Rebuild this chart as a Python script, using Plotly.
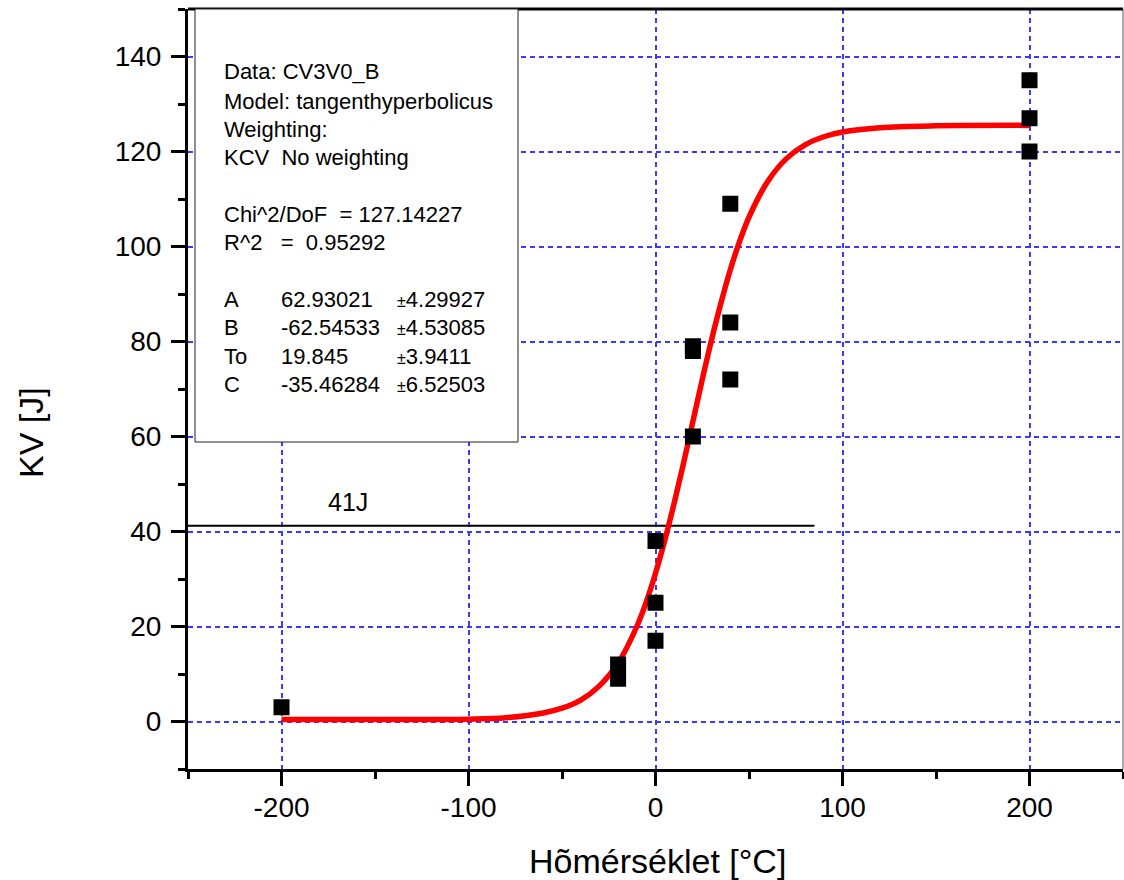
import plotly.graph_objects as go

# ---- data ----
pts_x = [-200, -20, -20, 0, 0, 0, 20, 20, 20, 40, 40, 40, 200, 200, 200]
pts_y = [3, 12, 9, 38, 25, 17, 79, 78, 60, 109, 84, 72, 135, 127, 120]

curve_x = [-200, -150, -100, -80, -60, -50, -40, -30, -20, -10, -5, 0, 5, 10, 15, 20,
           25, 30, 35, 40, 45, 50, 60, 70, 80, 90, 100, 120, 150, 200]
curve_y = [0.4, 0.4, 0.5, 0.8, 1.8, 2.8, 4.5, 7.5, 12.3, 20.0, 25.1, 31.2, 38.2, 46.0, 54.4, 63.2,
           72.0, 80.4, 88.1, 95.1, 101.1, 106.2, 113.7, 118.5, 121.4, 123.1, 124.1, 125.0, 125.4, 125.5]

ref_x = [-250, 85]
ref_y = [41.2, 41.2]
ref_label = "41J"

x_tick_vals = [-200, -100, 0, 100, 200]
x_tick_text = ["-200", "-100", "0", "100", "200"]
y_tick_vals = [0, 20, 40, 60, 80, 100, 120, 140]
y_tick_text = ["0", "20", "40", "60", "80", "100", "120", "140"]

x_title = "Hõmérséklet [°C]"
y_title = "KV [J]"

info_lines = ["Data: CV3V0_B", "Model: tangenthyperbolicus", "Weighting:", "KCV  No weighting",
              "Chi^2/DoF  = 127.14227", "R^2   =  0.95292"]
param_names = ["A", "B", "To", "C"]
param_values = ["62.93021", "-62.54533", "19.845", "-35.46284"]
param_errors = ["4.29927", "4.53085", "3.9411", "6.52503"]

FONT = "Liberation Sans, Arial, sans-serif"
W, H = 1124, 880
ML, MR, MT, MB = 188, 1, 9, 111
PW, PH = W - ML - MR, H - MT - MB


def px(x):
    return (x - ML) / PW


def py(y):
    return (H - MB - y) / PH


fig = go.Figure()
fig.add_trace(go.Scatter(x=ref_x, y=ref_y, mode="lines",
                         line=dict(color="black", width=2), showlegend=False))
fig.add_trace(go.Scatter(x=curve_x, y=curve_y, mode="lines", line_shape="spline",
                         line=dict(color="#ff0000", width=5.5), showlegend=False))
fig.add_trace(go.Scatter(x=pts_x, y=pts_y, mode="markers",
                         marker=dict(symbol="square", size=16, color="black", line=dict(width=0)),
                         showlegend=False))

axis_common = dict(showline=True, linecolor="black", linewidth=3,
                   ticks="outside", ticklen=14, tickwidth=3, tickcolor="black",
                   showgrid=True, gridcolor="#3a3aff", gridwidth=1.6, griddash="5px,4px",
                   zeroline=False, tickmode="array",
                   tickfont=dict(family=FONT, size=28, color="black"))

fig.update_xaxes(range=[-250, 250], tickvals=x_tick_vals, ticktext=x_tick_text,
                 ticklabelstandoff=-3,
                 minor=dict(tickmode="linear", dtick=50, tick0=0, ticks="outside", ticklen=7,
                            tickwidth=3, tickcolor="black", showgrid=False),
                 **axis_common)
fig.update_yaxes(range=[-10, 150], tickvals=y_tick_vals, ticktext=y_tick_text,
                 ticklabelstandoff=4,
                 minor=dict(tickmode="linear", dtick=10, tick0=0, ticks="outside", ticklen=7,
                            tickwidth=3, tickcolor="black", showgrid=False),
                 **axis_common)

shapes = [
    # top and right frame
    dict(type="line", xref="paper", yref="paper", x0=0, x1=1, y0=1, y1=1,
         line=dict(color="black", width=3), layer="above"),
    dict(type="line", xref="paper", yref="paper", x0=1, x1=1, y0=0, y1=1,
         line=dict(color="#555555", width=1), layer="above"),
    # info box
    dict(type="rect", xref="paper", yref="paper", x0=px(195), x1=px(518), y0=py(442), y1=py(9),
         fillcolor="white", line=dict(color="#222222", width=1), layer="above"),
]

annotations = []
line_y = [71, 100, 128.5, 156.5, 213.5, 241.5]
for t, yy in zip(info_lines, line_y):
    annotations.append(dict(text=t, xref="paper", yref="paper", x=px(222), y=py(yy + 1),
                            xanchor="left", yanchor="middle", showarrow=False,
                            font=dict(family=FONT, size=22, color="black")))
param_y = [298, 326, 355, 383]
for n, v, e, yy in zip(param_names, param_values, param_errors, param_y):
    for t, xx in [(n, 222), (v, 279), ("<span style='font-size:16px'>±</span>" + e, 395)]:
        annotations.append(dict(text=t, xref="paper", yref="paper", x=px(xx), y=py(yy + 1),
                                xanchor="left", yanchor="middle", showarrow=False,
                                font=dict(family=FONT, size=22, color="black")))

annotations.append(dict(text=ref_label, x=-164.5, y=46.2, xref="x", yref="y", showarrow=False,
                        xanchor="center", yanchor="middle",
                        font=dict(family=FONT, size=25, color="black")))
annotations.append(dict(text=x_title, xref="paper", yref="paper", x=px(657), y=py(861),
                        xanchor="center", yanchor="middle", showarrow=False,
                        font=dict(family=FONT, size=34, color="black")))
annotations.append(dict(text=y_title, xref="paper", yref="paper", x=px(31), y=py(433),
                        xanchor="center", yanchor="middle", showarrow=False, textangle=-90,
                        font=dict(family=FONT, size=34, color="black")))

fig.update_layout(width=W, height=H, margin=dict(l=ML, r=MR, t=MT, b=MB),
                  paper_bgcolor="white", plot_bgcolor="white",
                  shapes=shapes, annotations=annotations, showlegend=False)

fig.write_html("out.html")
